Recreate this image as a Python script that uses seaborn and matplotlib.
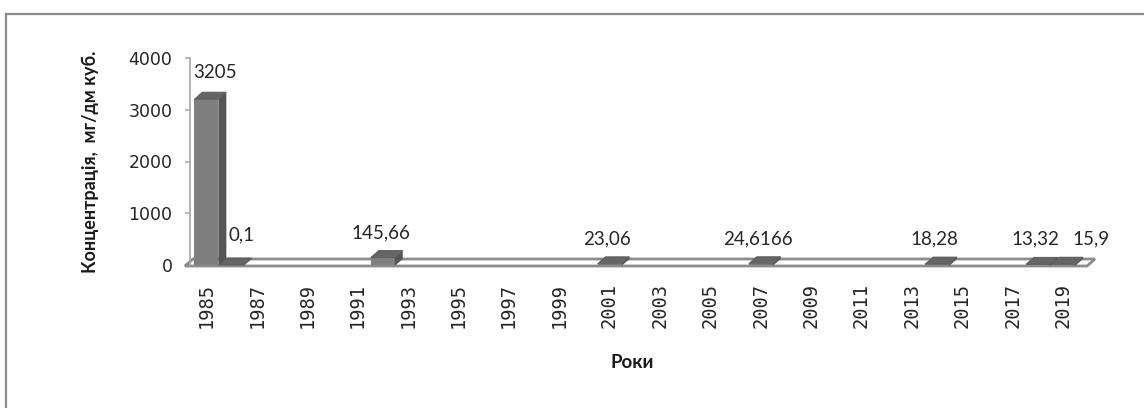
import numpy as np
import pandas as pd
import matplotlib
matplotlib.use("Agg")
import matplotlib.pyplot as plt
import seaborn as sns
from matplotlib.patches import Polygon, Rectangle
from matplotlib.transforms import IdentityTransform

# ---------------- data ----------------
all_years = list(range(1985, 2020))
measured_years = [1985, 1986, 1992, 2001, 2007, 2014, 2018, 2019]
concentrations = [3205, 0.1, 145.66, 23.06, 24.6166, 18.28, 13.32, 15.9]
tick_years = all_years[::2]
y_ticks = [0, 1000, 2000, 3000, 4000]
y_label = "Концентрація,  мг/дм куб."
x_label = "Роки"

# label offsets (pixels) to mimic the reference placement
lab_dx = [9, 10, -2, -3, -3, -3, -2, 28]
lab_dy = [27, 30, 25, 25, 25, 25, 25, 25]

# ---------------- figure ----------------
sns.set_theme(style="white")
plt.rcParams['font.family'] = ['DejaVu Sans']

W, H, DPI = 1144, 408, 100
fig = plt.figure(figsize=(W / DPI, H / DPI), dpi=DPI)
fig.patch.set_facecolor("white")
ax = fig.add_axes([190 / W, 1 - 265 / H, 897 / W, 207 / H])

df = pd.DataFrame({"year": measured_years, "value": concentrations})
full = pd.DataFrame({"year": all_years}).merge(df, on="year", how="left")

sns.barplot(data=full, x="year", y="value", order=all_years, color="#7f7f7f",
            saturation=1, width=0.95, linewidth=0, edgecolor="none", ax=ax, zorder=2)

ax.set_xlim(-0.65, 34.95)
ax.set_ylim(0, 4000)

for s in ["top", "right", "bottom"]:
    ax.spines[s].set_visible(False)
ax.spines["left"].set_color("#a6a6a6")
ax.spines["left"].set_linewidth(1.2)

ax.set_xticks(range(0, len(all_years), 2))
ax.set_xticklabels([str(y) for y in tick_years], rotation=90,
                   family="DejaVu Sans Mono", fontsize=13.5, color="#262626")
ax.tick_params(axis="x", length=0, pad=13, bottom=False)
ax.set_yticks(y_ticks)
ax.set_yticklabels([str(t) for t in y_ticks], fontsize=12.5, color="#262626")
ax.tick_params(axis="y", left=True, length=3.6, width=1.1, color="#a6a6a6", pad=9)

ax.set_ylabel(y_label, fontsize=13, fontweight="bold", family="Lato", color="#1a1a1a")
ax.yaxis.set_label_coords((90 - 190) / 897, 0.5)
ax.yaxis.label.set_va("center")
ax.set_xlabel(x_label, fontsize=13.5, fontweight="bold", family="Lato", color="#1a1a1a")
ax.xaxis.set_label_coords((632 - 190) / 897, (265 - 363) / 207)
ax.xaxis.label.set_va("center")

# ---------------- pseudo-3D decoration ----------------
ddx, ddy = 8, 7
tr = ax.transData
x_left_px = tr.transform((-0.65, 0))[0]
x_right_px = tr.transform((34.95, 0))[0]
y0_px = tr.transform((0, 0))[1] - 1
floor = Polygon([(x_left_px - 5, y0_px), (x_right_px, y0_px),
                 (x_right_px + ddx, y0_px + ddy), (x_left_px - 5 + ddx, y0_px + ddy)],
                closed=True, facecolor="white", edgecolor="#8c8c8c", lw=2.0,
                transform=IdentityTransform(), zorder=1, clip_on=False)
ax.add_patch(floor)

for p in list(ax.patches):
    if p is floor:
        continue
    h = p.get_height()
    if h is None or not np.isfinite(h):
        continue
    xl, yb = tr.transform((p.get_x(), 0))
    xr, yt = tr.transform((p.get_x() + p.get_width(), h))
    yb = y0_px
    side = Polygon([(xr, yb), (xr + ddx, yb + ddy), (xr + ddx, yt + ddy), (xr, yt)],
                   closed=True, facecolor="#555555", edgecolor="none",
                   transform=IdentityTransform(), zorder=3, clip_on=False)
    top = Polygon([(xl, yt), (xr, yt), (xr + ddx, yt + ddy), (xl + ddx, yt + ddy)],
                  closed=True, facecolor="#656565", edgecolor="#5a5a5a", lw=0.6,
                  transform=IdentityTransform(), zorder=3, clip_on=False)
    ax.add_patch(side)
    ax.add_patch(top)

# ---------------- data labels ----------------
for k, (yr, v) in enumerate(zip(measured_years, concentrations)):
    i = all_years.index(yr)
    txt = f"{v:g}".replace(".", ",")
    ax.annotate(txt, xy=(i, v), xytext=(lab_dx[k] * 0.72, lab_dy[k] * 0.72),
                textcoords="offset points", ha="center", va="center",
                fontsize=13.5, family="Lato", color="#262626", annotation_clip=False)

# outer border (only top and left visible in the reference)
fig.add_artist(Rectangle((6 / W, -0.5), 2, (H - 13.5) / H + 0.5,
                         transform=fig.transFigure, fill=False,
                         edgecolor="#8a8a8a", lw=1.6))

fig.savefig("out.png", dpi=DPI)
